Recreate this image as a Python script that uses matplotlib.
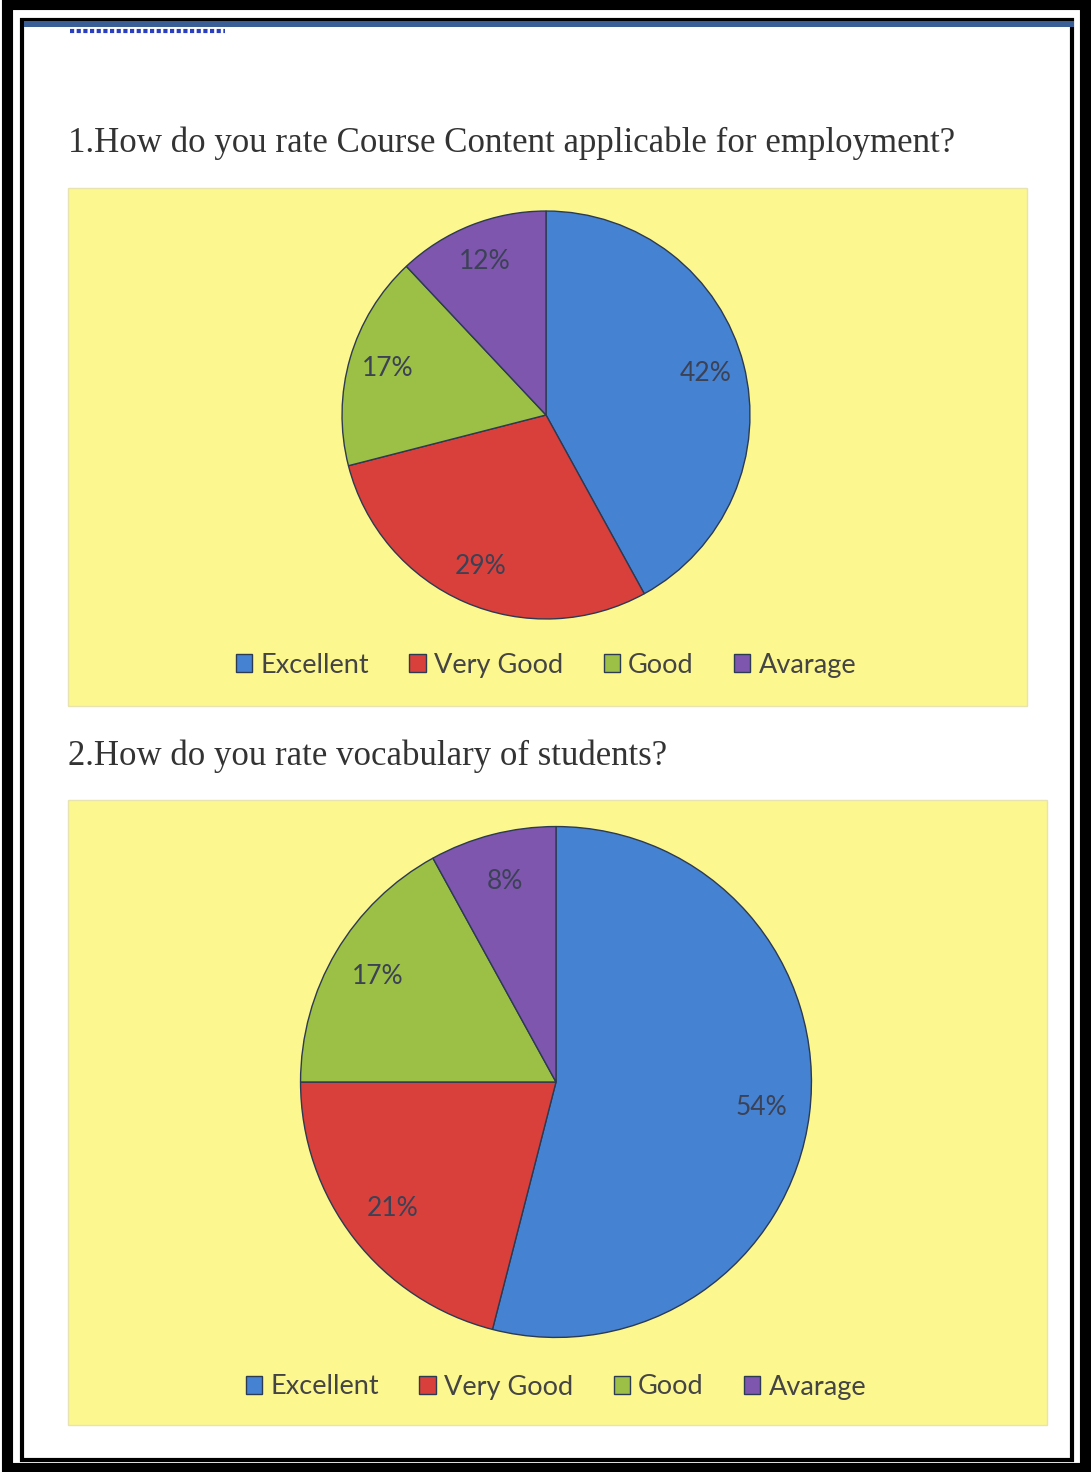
import matplotlib
matplotlib.use("Agg")
import matplotlib.pyplot as plt
from matplotlib.patches import Rectangle

# donnees
categories = ["Excellent", "Very Good", "Good", "Avarage"]
valeurs_1 = [42, 29, 17, 12]
valeurs_2 = [54, 21, 17, 8]
titre_1 = "1.How do you rate Course Content applicable for employment?"
titre_2 = "2.How do you rate vocabulary of students?"
couleurs = ["#4682d2", "#d9403b", "#9cbf45", "#7e56ad"]

W, H = 1091, 1472
fig = plt.figure(figsize=(W / 100, H / 100), dpi=100)
fig.patch.set_facecolor("white")

# fond en pixels
bg = fig.add_axes([0, 0, 1, 1])
bg.set_xlim(0, W)
bg.set_ylim(H, 0)
bg.axis("off")

# cadre noir
bg.add_patch(Rectangle((0, 0), W, H, facecolor="white", edgecolor="none"))
bg.add_patch(Rectangle((7, 4), 1078, 1464, facecolor="none", edgecolor="black", lw=8))
bg.add_patch(Rectangle((22, 20), 1050, 1440, facecolor="none", edgecolor="black", lw=3))
bg.add_patch(Rectangle((24, 21), 1050, 6, facecolor="#3a5f96", edgecolor="none"))
bg.plot([70, 225], [31, 31], color="#2a3fc0", lw=3, ls=(0, (1, 0.6)))

# titres
bg.text(68, 143, titre_1, family="Liberation Serif", fontsize=25.1,
        color="#333333", va="center", ha="left")
bg.text(68, 756, titre_2, family="Liberation Serif", fontsize=25,
        color="#333333", va="center", ha="left")

# panneaux jaunes
bg.add_patch(Rectangle((68, 188), 959, 518, facecolor="#fcf88f",
                       edgecolor="#e8e4b0", lw=1))
bg.add_patch(Rectangle((68, 800), 979, 625, facecolor="#fcf88f",
                       edgecolor="#e8e4b0", lw=1))


def camembert(valeurs, cx, cy, r, ly):
    ax = fig.add_axes([(cx - r) / W, 1 - (cy + r) / H, 2 * r / W, 2 * r / H])
    ax.set_facecolor("none")
    wedges, textes, autotextes = ax.pie(
        valeurs, colors=couleurs, startangle=90, counterclock=False,
        autopct="%d%%", pctdistance=0.81, radius=1,
        wedgeprops=dict(edgecolor="#2c3a52", linewidth=1),
        textprops=dict(family="Lato", fontsize=19, color="#3b4256"))
    ax.set_xlim(-1.01, 1.01)
    ax.set_ylim(-1.01, 1.01)
    ax.set_aspect("equal")
    fig.legend(wedges, categories, loc="center",
               bbox_to_anchor=(cx / W, 1 - ly / H), ncol=4, frameon=False,
               prop=dict(family="Lato", size=19.5), labelcolor="#444444",
               handlelength=0.6, handleheight=0.6, handletextpad=0.3,
               columnspacing=1.5)
    return ax


camembert(valeurs_1, 546, 415, 206, 665)
camembert(valeurs_2, 556, 1082, 258, 1387)

plt.savefig("out.png", dpi=100)
